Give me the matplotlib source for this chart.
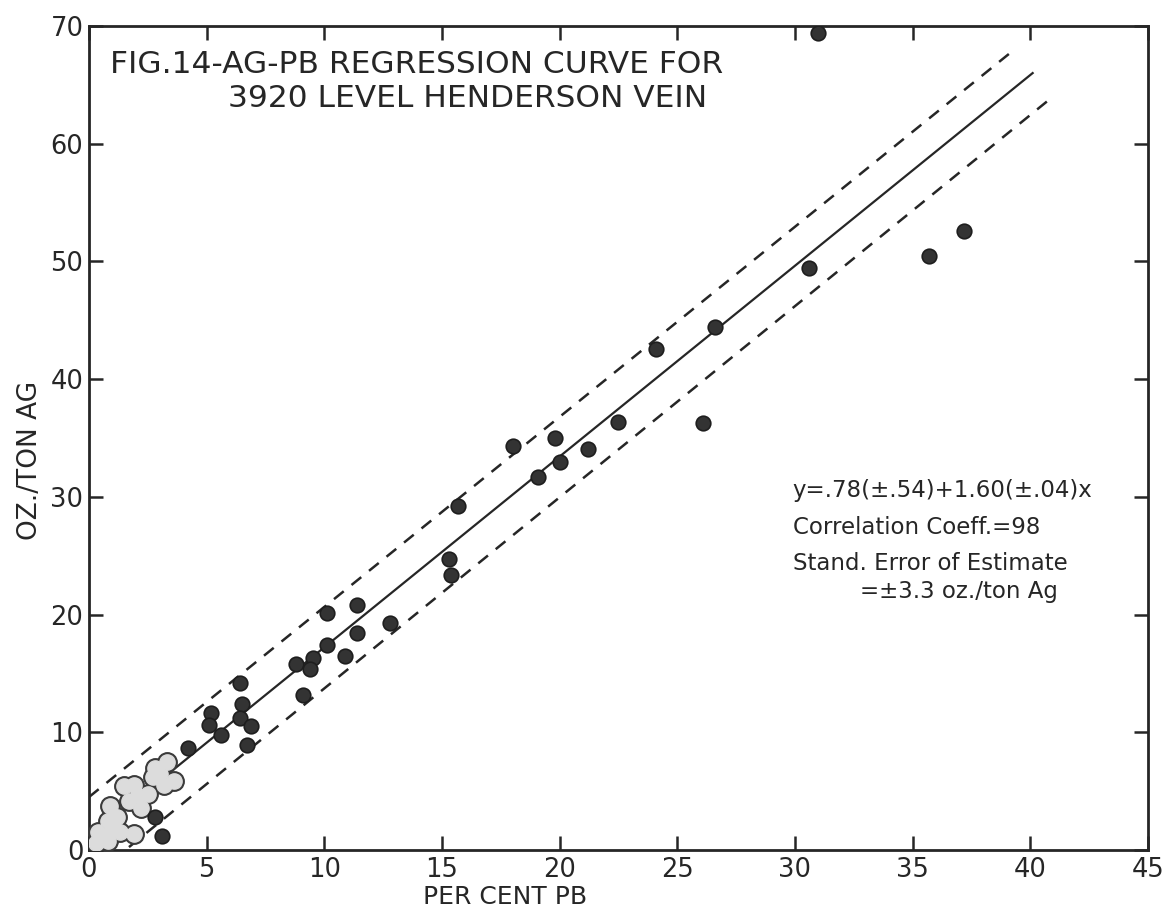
## Ag-Pb regression chart, 3920 level Henderson vein
from matplotlib import pyplot as plt

plt.rcParams['font.family'] = ['DejaVu Sans']

# measured samples (per cent Pb, oz/ton Ag)
pb_pct = [31.0, 37.2, 35.7, 30.6, 26.6, 24.1, 22.5, 26.1, 21.2, 18.0,
          19.8, 20.0, 19.1, 15.7, 15.3, 15.4, 11.4, 10.1, 12.8, 11.4,
          10.1, 10.9, 9.5, 8.8, 9.4, 9.1, 6.4, 6.5, 5.2, 5.1,
          6.4, 6.9, 5.6, 6.7, 4.2, 2.8, 3.1]
ag_oz = [69.4, 52.6, 50.5, 49.4, 44.4, 42.6, 36.4, 36.3, 34.1, 34.3,
         35.0, 33.0, 31.7, 29.2, 24.7, 23.4, 20.8, 20.1, 19.3, 18.4,
         17.4, 16.5, 16.3, 15.8, 15.4, 13.2, 14.2, 12.4, 11.6, 10.6,
         11.2, 10.5, 9.8, 8.9, 8.7, 2.8, 1.2]

# crowded low-grade samples drawn as outlined clusters
cluster_pb = [2.8, 3.3, 3.6, 3.2, 2.7, 3.0,
              1.9, 2.5, 2.2, 1.7, 1.5, 2.1,
              0.9, 1.2, 1.3, 0.8, 1.0,
              0.4, 0.8, 0.3, 0.9, 1.9]
cluster_ag = [7.0, 7.5, 5.9, 5.5, 6.2, 6.5,
              5.5, 4.8, 3.6, 4.2, 5.4, 4.6,
              3.7, 2.8, 1.5, 2.5, 2.2,
              1.5, 0.8, 0.6, 1.5, 1.4]

# regression line and +/- standard error lines (end points)
fit_x = [0.3, 40.1]
fit_y = [1.5, 66.0]
upper_x = [0.0, 39.2]
upper_y = [4.5, 67.8]
lower_x = [1.7, 40.9]
lower_y = [0.25, 63.9]

x_ticks = [0, 5, 10, 15, 20, 25, 30, 35, 40, 45]
y_ticks = [0, 10, 20, 30, 40, 50, 60, 70]

ink = '#262626'

fig = plt.figure(figsize=(11.69, 9.15), dpi=100)
ax = fig.add_axes([0.0761, 0.071, 0.9059, 0.9006])

ax.plot(fit_x, fit_y, color=ink, linewidth=1.6, zorder=2)
ax.plot(upper_x, upper_y, color=ink, linewidth=1.8, linestyle=(0, (5, 4)), zorder=2)
ax.plot(lower_x, lower_y, color=ink, linewidth=1.8, linestyle=(0, (5, 4)), zorder=2)

# cluster outline then light fill on top, gives a cloud shape
ax.plot(cluster_pb, cluster_ag, linestyle='', marker='o', markersize=14,
        color='#3a3a3a', zorder=3)
ax.plot(cluster_pb, cluster_ag, linestyle='', marker='o', markersize=11,
        color='#dcdcdc', zorder=4)

ax.plot(pb_pct, ag_oz, linestyle='', marker='o', markersize=10.5,
        markerfacecolor='#333333', markeredgecolor='#1e1e1e',
        markeredgewidth=1.2, zorder=5)

ax.set_xlim(0, 45)
ax.set_ylim(0, 70)
ax.set_xticks(x_ticks)
ax.set_yticks(y_ticks)
ax.tick_params(direction='in', length=10, width=1.8, labelsize=18.5,
               top=True, right=True, colors=ink)
ax.tick_params(axis='x', pad=5)
ax.tick_params(axis='y', pad=4)
for s in ax.spines.values():
    s.set_linewidth(2.0)
    s.set_color(ink)

ax.set_xlabel('PER CENT PB', fontsize=18, color=ink)
ax.xaxis.set_label_coords(0.393, -0.043)
ax.set_ylabel('OZ./TON AG', fontsize=19, color=ink)
ax.yaxis.set_label_coords(-0.043, 0.473)

ax.text(0.9, 66.0, 'FIG.14-AG-PB REGRESSION CURVE FOR', fontsize=22.5, color=ink)
ax.text(5.9, 63.1, '3920 LEVEL HENDERSON VEIN', fontsize=22.5, color=ink)

ax.text(29.9, 30.0, 'y=.78(±.54)+1.60(±.04)x', fontsize=16.5, color=ink)
ax.text(29.9, 26.85, 'Correlation Coeff.=98', fontsize=16.5, color=ink)
ax.text(29.9, 23.8, 'Stand. Error of Estimate', fontsize=16.5, color=ink)
ax.text(32.75, 21.4, '=±3.3 oz./ton Ag', fontsize=16.5, color=ink)

plt.savefig('out.png', dpi=100)
